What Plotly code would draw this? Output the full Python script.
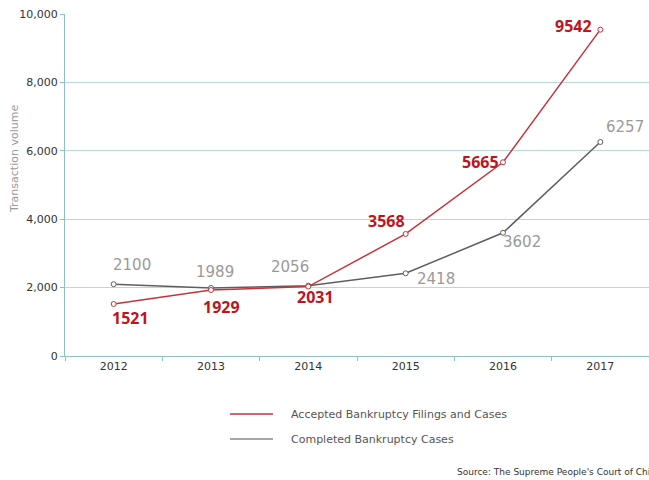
import plotly.graph_objects as go

# Bankruptcy case counts per year
years = ["2012", "2013", "2014", "2015", "2016", "2017"]
accepted = [1521, 1929, 2031, 3568, 5665, 9542]
completed = [2100, 1989, 2056, 2418, 3602, 6257]
series_names = ["Accepted Bankruptcy Filings and Cases", "Completed Bankruptcy Cases"]
y_ticks = [0, 2000, 4000, 6000, 8000, 10000]
source_text = "Source: The Supreme People's Court of China"

RED = "#c6343a"
RED_TXT = "#c0141c"
GRAY = "#5f5f5f"
GRAY_TXT = "#9a9a9a"
GRID = "#b9d8dc"
AXIS = "#8fc0c6"
FONT = "DejaVu Sans"
LABEL_BOLD_FONT = "Noto Sans"

# label placement per point: (xshift, yshift, xanchor)
acc_offsets = [(-4, -14, "left"), (-10, -17, "left"), (-13, -10, "left"),
               (1, 13, "right"), (-2, 0, "right"), (-6, 4, "right")]
com_offsets = [(-3, 19, "left"), (-17, 16, "left"), (-39, 19, "left"),
               (9, -6, "left"), (-2, -9, "left"), (4, 15, "left")]

fig = go.Figure()
for name, vals, line_col in [(series_names[1], completed, GRAY), (series_names[0], accepted, RED)]:
    fig.add_trace(go.Scatter(
        x=years, y=vals, mode="lines+markers", name=name, showlegend=False,
        line=dict(color=line_col, width=1.5),
        marker=dict(symbol="circle", size=5, color="white",
                    line=dict(color=line_col, width=1)),
        cliponaxis=False,
    ))

annotations = []
for vals, offs, col, bold in [(accepted, acc_offsets, RED_TXT, True), (completed, com_offsets, GRAY_TXT, False)]:
    for i, (v, (dx, dy, xa)) in enumerate(zip(vals, offs)):
        annotations.append(dict(
            x=i, y=v, xref="x", yref="y",
            text=f"<b>{v}</b>" if bold else str(v), showarrow=False,
            xanchor=xa, yanchor="middle", xshift=dx, yshift=dy,
            font=dict(family=LABEL_BOLD_FONT if bold else FONT,
                      size=16 if bold else 15, color=col),
        ))

# y-axis title
annotations.append(dict(
    x=14, y=159, xref="paper", yref="paper", text="Transaction volume",
    showarrow=False, textangle=-90, xanchor="center", yanchor="middle",
    font=dict(family=FONT, size=11, color="#9a9a9a"),
))

# legend drawn below the plot
shapes = []
for i, (name, col) in enumerate([(series_names[0], RED), (series_names[1], "#8a8a8a")]):
    y_px = 414 + 25 * i
    shapes.append(dict(type="line", xref="paper", yref="paper",
                       x0=230, x1=273, y0=y_px, y1=y_px,
                       line=dict(color=col, width=1.5)))
    annotations.append(dict(
        x=289, y=y_px, xref="paper", yref="paper", text=name, showarrow=False,
        xanchor="left", yanchor="middle",
        font=dict(family=FONT, size=11, color="#555555"),
    ))

annotations.append(dict(
    x=455, y=472, xref="paper", yref="paper", text=source_text, showarrow=False,
    xanchor="left", yanchor="middle",
    font=dict(family=FONT, size=9, color="#333333"),
))

W, H = 649, 480
ML, MR, MT, MB = 65, 0, 14, 124

# convert pixel-based paper positions to paper fractions
for a in annotations:
    if a["xref"] == "paper":
        a["x"] = (a["x"] - ML) / (W - ML - MR)
        a["y"] = 1 - (a["y"] - MT) / (H - MT - MB)
for s in shapes:
    s["x0"] = (s["x0"] - ML) / (W - ML - MR)
    s["x1"] = (s["x1"] - ML) / (W - ML - MR)
    s["y0"] = 1 - (s["y0"] - MT) / (H - MT - MB)
    s["y1"] = 1 - (s["y1"] - MT) / (H - MT - MB)

fig.update_layout(
    width=W, height=H,
    margin=dict(l=ML, r=MR, t=MT, b=MB),
    paper_bgcolor="white", plot_bgcolor="white",
    font=dict(family=FONT, size=11, color="#333333"),
    annotations=annotations, shapes=shapes,
    showlegend=False,
)
fig.update_xaxes(
    type="category", range=[-0.5, 5.5], tickson="boundaries",
    showgrid=False, showline=True, linecolor=AXIS, linewidth=1,
    ticks="outside", ticklen=4, tickcolor=AXIS,
    tickfont=dict(family=FONT, size=11, color="#333333"),
)
fig.update_yaxes(
    range=[0, 10000], tickvals=y_ticks, tickformat=",d",
    showgrid=True, gridcolor=GRID, gridwidth=1, zeroline=False,
    showline=True, linecolor=AXIS, linewidth=1,
    ticks="outside", ticklen=4, tickcolor=AXIS,
    tickfont=dict(family=FONT, size=11, color="#333333"),
)

fig.write_html("out.html")
